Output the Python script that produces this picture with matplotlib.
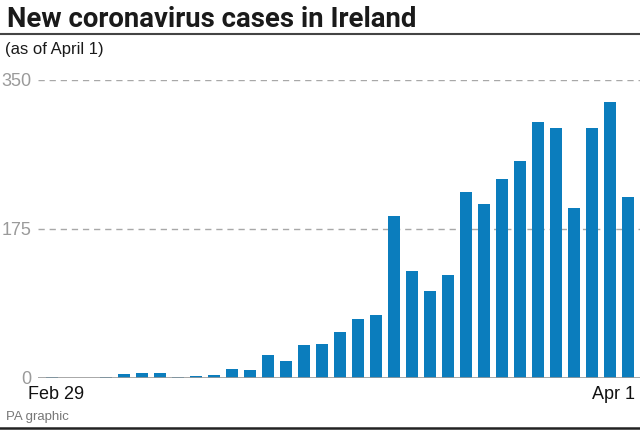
import matplotlib.pyplot as plt
from matplotlib.lines import Line2D

# Daily new cases, Feb 29 .. Apr 1
days = list(range(33))
cases = [1, 0, 0, 1, 4, 6, 5, 1, 2, 3, 10, 9, 27, 20, 39, 40, 54,
         69, 74, 190, 126, 102, 121, 218, 204, 234, 255, 301, 293,
         200, 294, 324, 212]
yticks = [0, 175, 350]
first_label = "Feb 29"
last_label = "Apr 1"

plt.rcParams["font.family"] = ["Liberation Sans", "DejaVu Sans"]

W, H = 640, 430
fig = plt.figure(figsize=(W / 100, H / 100), dpi=100)

# axes placed in pixel terms
left, right, bottom, top = 38, 640, 377.7, 80
ax = fig.add_axes([left / W, (H - bottom) / H, (right - left) / W, (bottom - top) / H])

bar_color = "#0b7dbd"
ax.bar(days, cases, width=0.7, color=bar_color, zorder=3)
ax.set_xlim(-0.78, 32.67)
ax.set_ylim(0, 350)

for s in ax.spines.values():
    s.set_visible(False)
ax.axhline(0, color="#9a9a9a", lw=1.2, zorder=4)
for v in yticks[1:]:
    ax.axhline(v, color="#a8a8a8", lw=1, linestyle=(0, (4.5, 3.5)), zorder=1)

ax.set_yticks(yticks)
ax.set_yticklabels([str(v) for v in yticks], color="#9a9a9a", fontsize=13)
ax.tick_params(axis="y", length=0, pad=5)
ax.set_xticks([])

ax.text(0.2, -10, first_label, ha="center", va="top", fontsize=13, color="#111111")
ax.text(32.4, -10, last_label, ha="right", va="top", fontsize=13, color="#111111")

# title block
fig.text(7 / W, 1 - 27 / H, "New coronavirus cases in Ireland", fontsize=19.8,
         fontweight="bold", family=["Roboto", "DejaVu Sans"], color="#1a1a1a",
         ha="left", va="baseline")
fig.add_artist(Line2D([0, 1], [1 - 33.5 / H] * 2, color="#444444", lw=1.5))
fig.text(5 / W, 1 - 54 / H, "(as of April 1)", fontsize=12, color="#1a1a1a",
         ha="left", va="baseline")

fig.text(6 / W, 1 - 420 / H, "PA graphic", fontsize=9.5, color="#777777",
         ha="left", va="baseline")
fig.add_artist(Line2D([0, 1], [1 - 427.5 / H] * 2, color="#222222", lw=1.8))

fig.savefig("out.png", dpi=100)
